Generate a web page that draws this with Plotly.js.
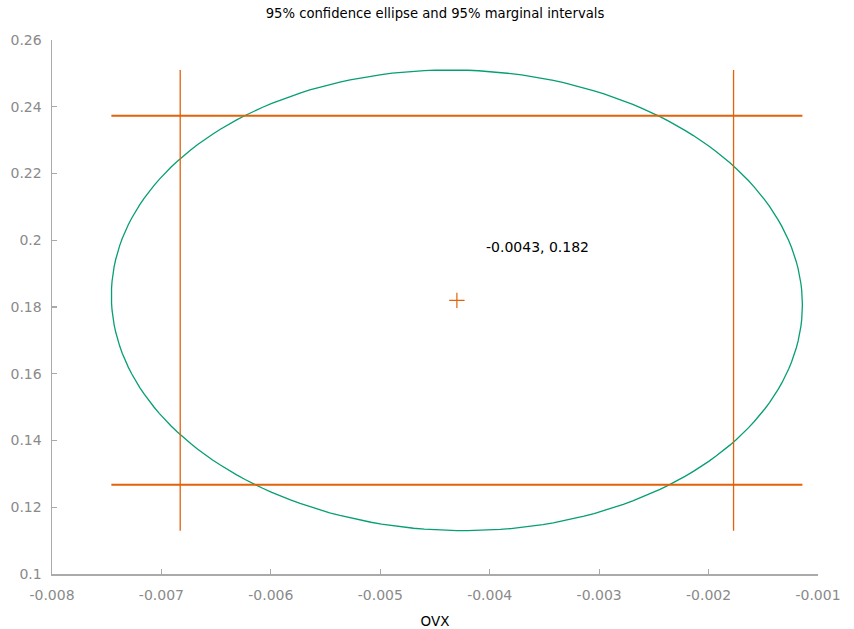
<!DOCTYPE html>
<html>
<head>
<meta charset="utf-8">
<script src="https://cdn.plot.ly/plotly-3.0.1.min.js"></script>
<style>html,body{margin:0;padding:0;background:#fff;}#chart{width:854px;height:629px;}</style>
</head>
<body>
<div id="chart"></div>
<script>
// Estimates (OVX coefficient, second coefficient)
const center = [-0.0043, 0.182];
const stdErr = [0.00129, 0.0282];
const correlation = [-0.02];
const chi2Crit95 = [5.991];   // 2 d.f.
const zCrit95 = [1.96];
const labelText = ["-0.0043, 0.182"];

const xTickVals = [-0.008, -0.007, -0.006, -0.005, -0.004, -0.003, -0.002, -0.001];
const xTickText = ["-0.008", "-0.007", "-0.006", "-0.005", "-0.004", "-0.003", "-0.002", "-0.001"];
const yTickVals = [0.1, 0.12, 0.14, 0.16, 0.18, 0.2, 0.22, 0.24, 0.26];
const yTickText = ["0.1", "0.12", "0.14", "0.16", "0.18", "0.2", "0.22", "0.24", "0.26"];

const green = "#079e73";
const orange = "#e0620a";

// confidence ellipse from estimates
const k = Math.sqrt(chi2Crit95[0]);
const r = correlation[0];
const ex = [], ey = [];
for (let i = 0; i <= 200; i++) {
  const t = 2 * Math.PI * i / 200;
  ex.push(center[0] + k * stdErr[0] * Math.cos(t));
  ey.push(center[1] + k * stdErr[1] * (r * Math.cos(t) + Math.sqrt(1 - r * r) * Math.sin(t)));
}
const xMin = Math.min(...ex), xMax = Math.max(...ex);
const yMin = Math.min(...ey), yMax = Math.max(...ey);
const xLo = center[0] - zCrit95[0] * stdErr[0], xHi = center[0] + zCrit95[0] * stdErr[0];
const yLo = center[1] - zCrit95[0] * stdErr[1], yHi = center[1] + zCrit95[0] * stdErr[1];

const traces = [
  {x: ex, y: ey, mode: "lines", line: {color: green, width: 1.3}, hoverinfo: "skip"},
  {x: [xLo, xLo], y: [yMin, yMax], mode: "lines", line: {color: orange, width: 1.3}},
  {x: [xHi, xHi], y: [yMin, yMax], mode: "lines", line: {color: orange, width: 1.3}},
  {x: [xMin, xMax], y: [yHi, yHi], mode: "lines", line: {color: orange, width: 2}},
  {x: [xMin, xMax], y: [yLo, yLo], mode: "lines", line: {color: orange, width: 2}},
  {x: [center[0]], y: [center[1]], mode: "markers",
   marker: {symbol: "cross-thin", size: 11, line: {color: orange, width: 1.2}, color: orange}}
];

const tickFont = {family: "DejaVu Sans", size: 14, color: "#8a8a8a"};
const layout = {
  width: 854, height: 629,
  margin: {l: 52, r: 36, t: 40, b: 55},
  paper_bgcolor: "#fff", plot_bgcolor: "#fff",
  showlegend: false,
  font: {family: "DejaVu Sans", size: 13, color: "#000"},
  title: {text: "95% confidence ellipse and 95% marginal intervals", xref: "paper", x: 0.5, xanchor: "center",
          y: 0.978, yanchor: "middle", font: {family: "DejaVu Sans", size: 13.2, color: "#000"}},
  xaxis: {range: [-0.008, -0.001], tickvals: xTickVals, ticktext: xTickText,
          showgrid: false, zeroline: false, showline: true, linecolor: "#aaaaaa", linewidth: 1.5,
          ticks: "inside", ticklen: 5, tickcolor: "#aaaaaa", tickwidth: 1.2, tickfont: tickFont,
          ticklabelstandoff: 8,
          title: {text: "OVX", font: {family: "DejaVu Sans", size: 13.5, color: "#000"}, standoff: 14}},
  yaxis: {range: [0.1, 0.26], tickvals: yTickVals, ticktext: yTickText,
          showgrid: false, zeroline: false, showline: true, linecolor: "#aaaaaa", linewidth: 1.5,
          ticks: "inside", ticklen: 5, tickcolor: "#aaaaaa", tickwidth: 1.2, tickfont: tickFont,
          ticklabelstandoff: 6},
  annotations: [{x: -0.00405, y: 0.198, xref: "x", yref: "y", text: labelText[0], showarrow: false,
                 xanchor: "left", yanchor: "middle", font: {family: "DejaVu Sans", size: 14, color: "#000"}}]
};

Plotly.newPlot("chart", traces, layout, {displayModeBar: false, staticPlot: true});
</script>
</body>
</html>
